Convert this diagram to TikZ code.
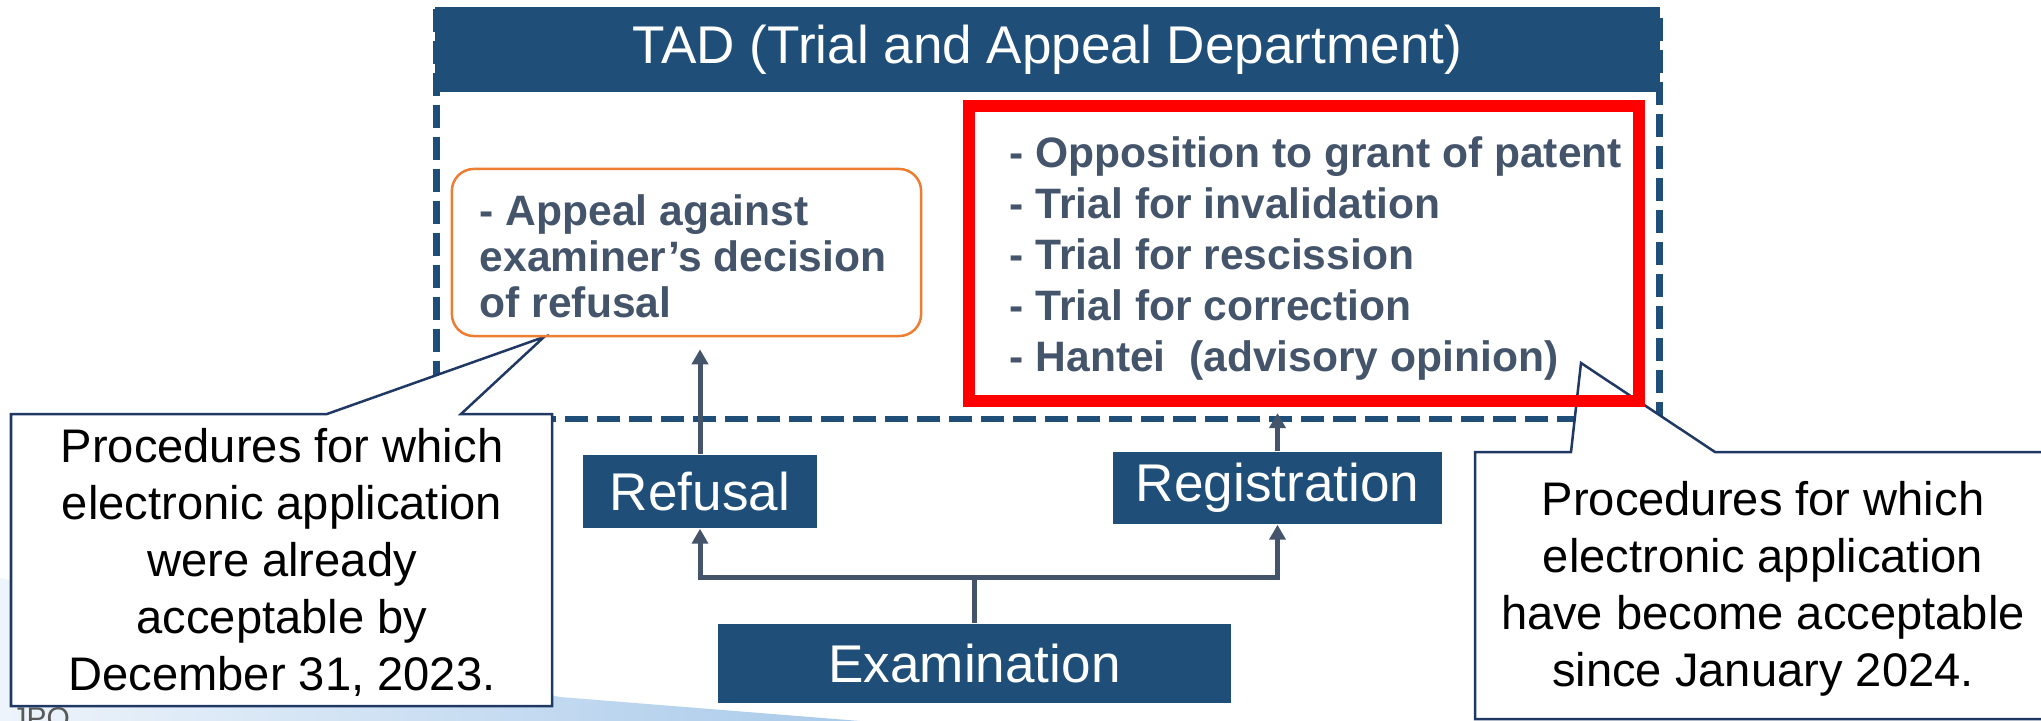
\documentclass[tikz,border=0pt]{standalone}
\usepackage{fontspec}
\setmainfont{Liberation Sans}
\usetikzlibrary{arrows.meta,calc}
\definecolor{tadblue}{HTML}{1F4E79}
\definecolor{txtgray}{HTML}{44546A}
\definecolor{orangeline}{HTML}{ED7D31}
\definecolor{navyline}{HTML}{203864}
\definecolor{swooshA}{HTML}{EEF4FB}
\definecolor{swooshB}{HTML}{A9CAEA}
\definecolor{jpogray}{HTML}{595959}
\begin{document}
\begin{tikzpicture}[x=0.01cm,y=-0.01cm,
  bluebox/.style={fill=tadblue, text=white, inner sep=0pt, font=\fontsize{15.1pt}{18pt}\selectfont},
  listtext/.style={text=txtgray, inner sep=0pt, align=left, anchor=west, font=\bfseries\fontsize{12.1pt}{14.5pt}\selectfont},
  flowarrow/.style={draw=txtgray, line width=0.05cm, -{Triangle[length=0.15cm,width=0.16cm]}},
  calloutshape/.style={draw=navyline, line width=0.025cm, fill=white, line join=miter},
  callouttext/.style={inner sep=0pt, align=center, font=\fontsize{13.4pt}{16.2pt}\selectfont},
  tadframe/.style={draw=tadblue, line width=0.065cm, dash pattern=on 0.23cm off 0.09cm},
]
\useasboundingbox (0,0) rectangle (2041,721);
% background swoosh
\shade[left color=swooshA, right color=swooshB] (0,578) -- (560,697) -- (860,721) -- (0,721) -- cycle;
\node[anchor=base west, text=jpogray, inner sep=0pt, font=\fontsize{8.5pt}{10pt}\selectfont] (jpo) at (11,728) {JPO};
% TAD frame and header
\node[tadframe, minimum width=12.22cm, minimum height=4.07cm, inner sep=0pt] (dept) at (1048,215.5) {};
\node[bluebox, minimum width=12.25cm, minimum height=0.85cm] (tad) at (1047.5,49.5) {TAD (Trial and Appeal Department)};
% callouts
\draw[calloutshape] (11,414) -- (327,414) -- (544,337) -- (461,414) -- (552,414) -- (552,706) -- (11,706) -- cycle;
\draw[calloutshape] (1475,452) -- (1571,452) -- (1581,363) -- (1715,452) -- (2060,452) -- (2060,719) -- (1475,719) -- cycle;
\node[callouttext] (oldnote) at (282,562) {Procedures for which\\electronic application\\were already\\acceptable by\\December 31, 2023.};
\node[callouttext] (newnote) at (1763,589) {Procedures for which\\electronic application\\have become acceptable\\since January 2024.};
% boxes inside TAD
\node[draw=orangeline, line width=0.025cm, rounded corners=0.22cm, minimum width=4.69cm, minimum height=1.67cm, inner sep=0pt] (appealbox) at (686.5,252.5) {};
\node[listtext, font=\bfseries\fontsize{12.1pt}{13.1pt}\selectfont] (appealtext) at (479,256) {- Appeal against\\examiner’s decision\\of refusal};
\node[draw=red, line width=0.12cm, minimum width=6.7cm, minimum height=2.95cm, inner sep=0pt] (trialsbox) at (1304,253.5) {};
\node[listtext] (trialstext) at (1009,258.5) {- Opposition to grant of patent\\- Trial for invalidation\\- Trial for rescission\\- Trial for correction\\- Hantei\ \ (advisory opinion)};
% flow boxes
\node[bluebox, minimum width=2.34cm, minimum height=0.73cm] (refusal) at (700,491.5) {Refusal};
\node[bluebox, minimum width=3.29cm, minimum height=0.72cm] (registration) at (1277.5,488) {Registration};
\node[bluebox, minimum width=5.13cm, minimum height=0.79cm] (exam) at (974.5,663.5) {Examination};
% connectors
\coordinate (split) at (974.5,577);
\draw[flowarrow] (exam.north) -- (split) -| (refusal.south);
\draw[flowarrow] (split) -| (registration.south);
\draw[flowarrow, shorten >=0.12cm] (refusal.north) -- (refusal.north |- appealbox.south);
\draw[flowarrow, shorten >=0.06cm] (registration.north) -- (registration.north |- trialsbox.south);
\end{tikzpicture}
\end{document}
